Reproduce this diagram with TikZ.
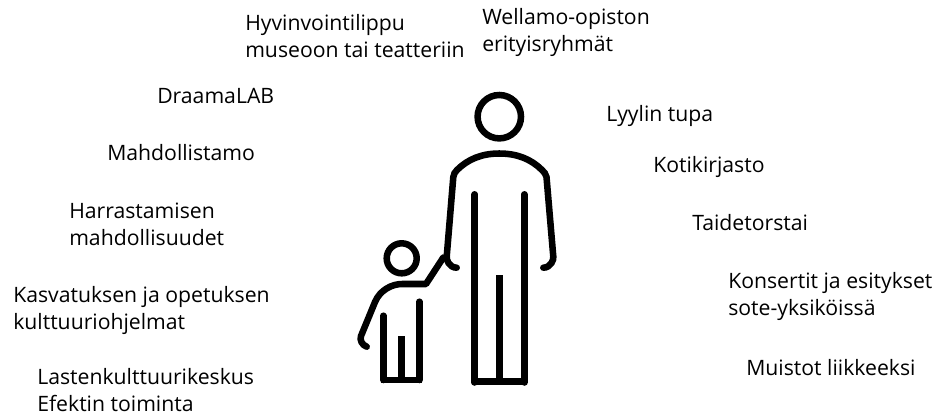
\documentclass[tikz,border=0pt]{standalone}
\usepackage{fontspec}
\setmainfont{Open Sans}
\tikzset{
  lbl/.style={anchor=west,align=left,inner sep=0pt,font=\fontsize{15.9}{20.6}\selectfont,text=black},
  fig/.style={line width=4.9pt,line join=miter}
}
\begin{document}
\begin{tikzpicture}[x=0.75pt,y=-0.75pt]
\useasboundingbox (0,0) rectangle (939,415);
\fill[white] (0,0) rectangle (939,415);
\node[lbl] (a1) at (245,36) {Hyvinvointilippu\\museoon tai teatteriin};
\node[lbl] (a2) at (482,32.5) {Wellamo-opiston\\erityisryhmät};
\node[lbl] (a3) at (157,96) {DraamaLAB};
\node[lbl] (a4) at (107,153) {Mahdollistamo};
\node[lbl] (a5) at (69,224.5) {Harrastamisen\\mahdollisuudet};
\node[lbl] (a6) at (13,310.5) {Kasvatuksen ja opetuksen\\kulttuuriohjelmat};
\node[lbl] (a7) at (37,390) {Lastenkulttuurikeskus\\Efektin toiminta};
\node[lbl] (b1) at (606,115.5) {Lyylin tupa};
\node[lbl] (b2) at (653,167) {Kotikirjasto};
\node[lbl] (b3) at (692,223) {Taidetorstai};
\node[lbl] (b4) at (728,296.5) {Konsertit ja esitykset\\sote-yksiköissä};
\node[lbl] (b5) at (746,368) {Muistot liikkeeksi};
% adult
\draw[fig] (499.3,116.7) circle (21.7);
\draw[fig,line cap=round] (456.7,267.7) .. controls (449,267.7) and (446,259) .. (446.7,256.7)
  -- (453.3,177) .. controls (453.7,174) and (455,172) .. (457,170)
  .. controls (468,159) and (482,153.5) .. (499.3,153.5)
  .. controls (517,153.5) and (531,159) .. (542,170)
  .. controls (544,172) and (546,174) .. (546.5,177)
  -- (553.3,256.7) .. controls (554,259) and (551,267.7) .. (543.3,267.7);
\draw[fig,line cap=round] (474.7,194.3) -- (474.7,382.5);
\draw[fig,line cap=round] (524.3,194.3) -- (524.3,382.5);
\draw[fig] (472.2,381.7) -- (526.8,381.7);
\draw[fig] (499.3,275) -- (499.3,381.7);
% child
\draw[fig] (401.7,258.3) circle (15);
\draw[fig,line cap=round,line join=round] (366.7,346.7) .. controls (362,345) and (359.5,340) .. (361,336)
  -- (375,302) .. controls (380,290) and (392,284) .. (402,284)
  -- (426,284) -- (443.3,257.5);
\draw[fig,line cap=round] (419.3,301.7) -- (419.3,380);
\draw[fig,line cap=round] (383.3,315.7) -- (383.3,380);
\draw[fig] (381,380) -- (421.7,380);
\draw[fig] (401.7,336) -- (401.7,380);
\end{tikzpicture}
\end{document}
